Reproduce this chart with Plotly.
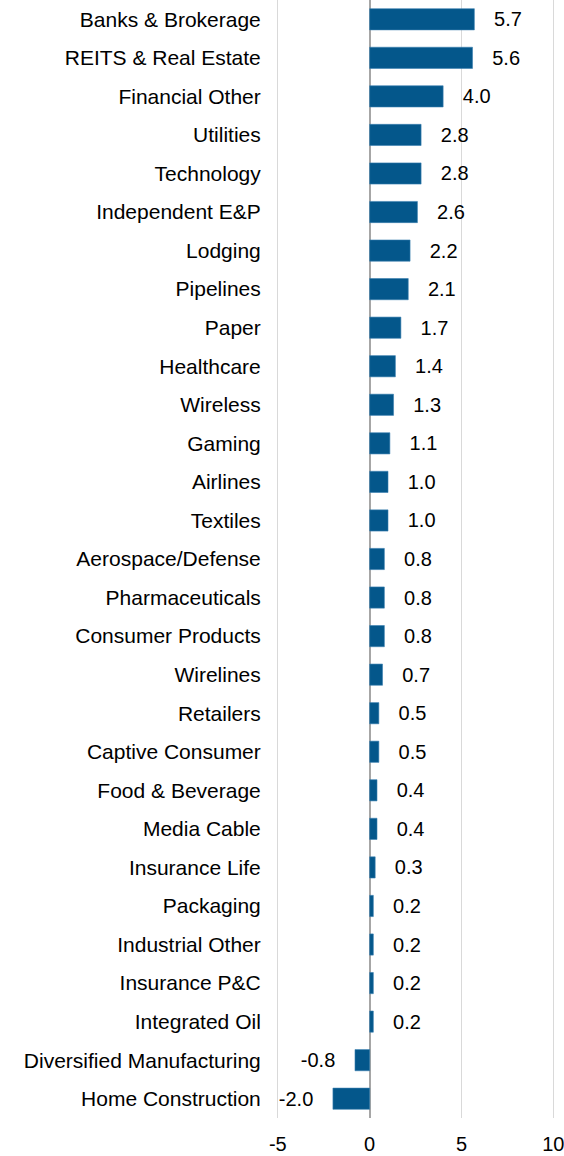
import plotly.graph_objects as go

categories = [
    "Banks & Brokerage", "REITS & Real Estate", "Financial Other", "Utilities",
    "Technology", "Independent E&P", "Lodging", "Pipelines", "Paper",
    "Healthcare", "Wireless", "Gaming", "Airlines", "Textiles",
    "Aerospace/Defense", "Pharmaceuticals", "Consumer Products", "Wirelines",
    "Retailers", "Captive Consumer", "Food & Beverage", "Media Cable",
    "Insurance Life", "Packaging", "Industrial Other", "Insurance P&C",
    "Integrated Oil", "Diversified Manufacturing", "Home Construction",
]
values = [
    5.7, 5.6, 4.0, 2.8, 2.8, 2.6, 2.2, 2.1, 1.7, 1.4, 1.3, 1.1, 1.0, 1.0,
    0.8, 0.8, 0.8, 0.7, 0.5, 0.5, 0.4, 0.4, 0.3, 0.2, 0.2, 0.2, 0.2,
    -0.8, -2.0,
]
x_ticks = [-5, 0, 5, 10]

pad = "\u00a0" * 3
labels = [(pad + f"{v:.1f}") if v >= 0 else (f"{v:.1f}" + pad) for v in values]

FONT = "Liberation Sans, Arial, sans-serif"

fig = go.Figure(go.Bar(
    x=values, y=categories, orientation="h",
    marker=dict(color="#04578B", line=dict(color="#3a7fb0", width=0.6)),
    text=labels, textposition="outside", constraintext="none",
    cliponaxis=False,
    textfont=dict(family=FONT, size=20, color="#000000"),
    hoverinfo="skip",
))

fig.update_layout(
    width=564, height=1156,
    margin=dict(l=276, r=4, t=0, b=38),
    paper_bgcolor="white", plot_bgcolor="white",
    bargap=0.45, showlegend=False,
    font=dict(family=FONT, size=20, color="#000000"),
)
fig.update_xaxes(
    range=[-5.1, 10.2], tickvals=x_ticks, ticktext=[str(t) for t in x_ticks],
    showgrid=True, gridcolor="#d9d9d9", gridwidth=1,
    zeroline=True, zerolinecolor="#a6a6a6", zerolinewidth=2,
    showline=False, ticks="outside", ticklen=8, tickcolor="rgba(0,0,0,0)",
    ticklabeloverflow="allow",
    tickfont=dict(family=FONT, size=20, color="#000000"), fixedrange=True,
)
fig.update_yaxes(
    autorange="reversed", showgrid=False, zeroline=False, showline=False,
    ticks="outside", ticklen=10, tickcolor="rgba(0,0,0,0)",
    tickfont=dict(family=FONT, size=21, color="#000000"), fixedrange=True,
)

fig.write_html("out.html", config={"displayModeBar": False})
